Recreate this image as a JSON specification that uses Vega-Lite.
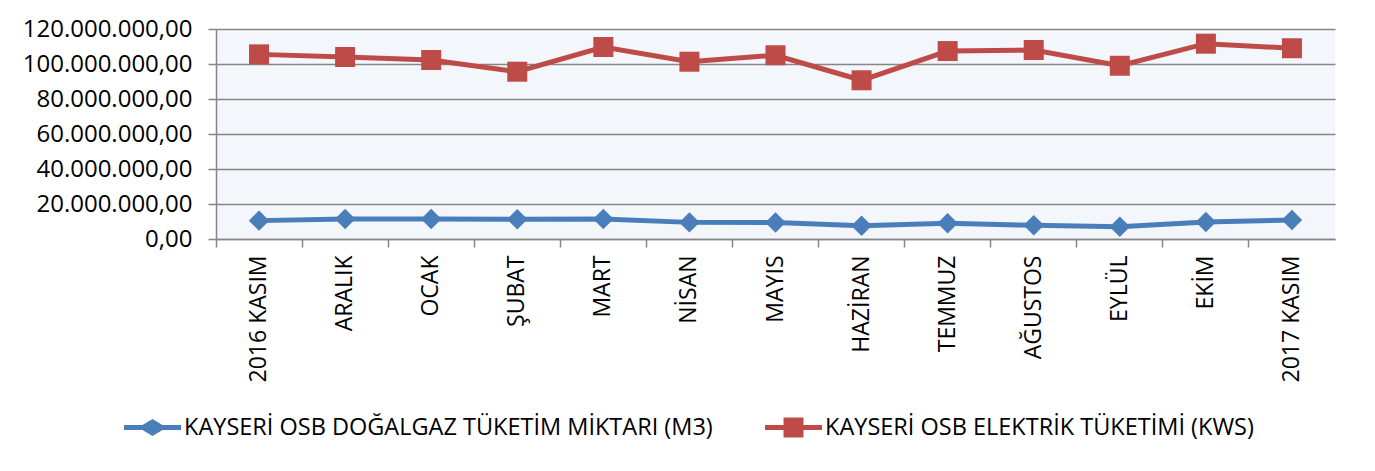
{
  "$schema": "https://vega.github.io/schema/vega-lite/v6.json",
  "width": 1119,
  "height": 210,
  "autosize": {"type": "none"},
  "padding": {"left": 216, "top": 29, "right": 40, "bottom": 232},
  "background": "white",
  "config": {
    "locale": {"number": {"decimal": ",", "thousands": ".", "grouping": [3], "currency": ["", ""]}},
    "font": "Open Sans",
    "view": {"fill": "#f3f6fb", "stroke": null},
    "axis": {"labelFont": "Open Sans", "labelColor": "#000000", "domainColor": "#868686", "tickColor": "#868686", "domainWidth": 1.5, "tickWidth": 1.5, "gridColor": "#868686", "gridWidth": 1.5, "gridOpacity": 1},
    "legend": {"labelFont": "Open Sans", "labelFontSize": 23.5, "labelColor": "#000000", "padding": 0, "labelLimit": 0}
  },
  "data": {"values": [
    {"month": "2016 KASIM", "series": "KAYSERİ OSB DOĞALGAZ TÜKETİM MİKTARI (M3)", "value": 10500000},
    {"month": "ARALIK", "series": "KAYSERİ OSB DOĞALGAZ TÜKETİM MİKTARI (M3)", "value": 11400000},
    {"month": "OCAK", "series": "KAYSERİ OSB DOĞALGAZ TÜKETİM MİKTARI (M3)", "value": 11400000},
    {"month": "ŞUBAT", "series": "KAYSERİ OSB DOĞALGAZ TÜKETİM MİKTARI (M3)", "value": 11300000},
    {"month": "MART", "series": "KAYSERİ OSB DOĞALGAZ TÜKETİM MİKTARI (M3)", "value": 11400000},
    {"month": "NİSAN", "series": "KAYSERİ OSB DOĞALGAZ TÜKETİM MİKTARI (M3)", "value": 9500000},
    {"month": "MAYIS", "series": "KAYSERİ OSB DOĞALGAZ TÜKETİM MİKTARI (M3)", "value": 9400000},
    {"month": "HAZİRAN", "series": "KAYSERİ OSB DOĞALGAZ TÜKETİM MİKTARI (M3)", "value": 7600000},
    {"month": "TEMMUZ", "series": "KAYSERİ OSB DOĞALGAZ TÜKETİM MİKTARI (M3)", "value": 9000000},
    {"month": "AĞUSTOS", "series": "KAYSERİ OSB DOĞALGAZ TÜKETİM MİKTARI (M3)", "value": 7800000},
    {"month": "EYLÜL", "series": "KAYSERİ OSB DOĞALGAZ TÜKETİM MİKTARI (M3)", "value": 7000000},
    {"month": "EKİM", "series": "KAYSERİ OSB DOĞALGAZ TÜKETİM MİKTARI (M3)", "value": 9700000},
    {"month": "2017 KASIM", "series": "KAYSERİ OSB DOĞALGAZ TÜKETİM MİKTARI (M3)", "value": 10900000},
    {"month": "2016 KASIM", "series": "KAYSERİ OSB ELEKTRİK TÜKETİMİ (KWS)", "value": 105500000},
    {"month": "ARALIK", "series": "KAYSERİ OSB ELEKTRİK TÜKETİMİ (KWS)", "value": 104000000},
    {"month": "OCAK", "series": "KAYSERİ OSB ELEKTRİK TÜKETİMİ (KWS)", "value": 102300000},
    {"month": "ŞUBAT", "series": "KAYSERİ OSB ELEKTRİK TÜKETİMİ (KWS)", "value": 95600000},
    {"month": "MART", "series": "KAYSERİ OSB ELEKTRİK TÜKETİMİ (KWS)", "value": 109700000},
    {"month": "NİSAN", "series": "KAYSERİ OSB ELEKTRİK TÜKETİMİ (KWS)", "value": 101300000},
    {"month": "MAYIS", "series": "KAYSERİ OSB ELEKTRİK TÜKETİMİ (KWS)", "value": 105000000},
    {"month": "HAZİRAN", "series": "KAYSERİ OSB ELEKTRİK TÜKETİMİ (KWS)", "value": 90700000},
    {"month": "TEMMUZ", "series": "KAYSERİ OSB ELEKTRİK TÜKETİMİ (KWS)", "value": 107400000},
    {"month": "AĞUSTOS", "series": "KAYSERİ OSB ELEKTRİK TÜKETİMİ (KWS)", "value": 108000000},
    {"month": "EYLÜL", "series": "KAYSERİ OSB ELEKTRİK TÜKETİMİ (KWS)", "value": 99000000},
    {"month": "EKİM", "series": "KAYSERİ OSB ELEKTRİK TÜKETİMİ (KWS)", "value": 111600000},
    {"month": "2017 KASIM", "series": "KAYSERİ OSB ELEKTRİK TÜKETİMİ (KWS)", "value": 109000000}
  ]},
  "encoding": {
    "x": {
      "field": "month", "type": "nominal",
      "sort": ["2016 KASIM", "ARALIK", "OCAK", "ŞUBAT", "MART", "NİSAN", "MAYIS", "HAZİRAN", "TEMMUZ", "AĞUSTOS", "EYLÜL", "EKİM", "2017 KASIM"],
      "scale": {"type": "band", "paddingInner": 0, "paddingOuter": 0},
      "axis": {"title": null, "labelAngle": -90, "labelFontSize": 23, "labelPadding": 8, "tickSize": 8, "bandPosition": 0, "grid": false, "labelAlign": "right", "labelBaseline": "middle"}
    },
    "y": {
      "field": "value", "type": "quantitative",
      "scale": {"domain": [0, 120000000], "nice": false},
      "axis": {"title": null, "values": [0, 20000000, 40000000, 60000000, 80000000, 100000000, 120000000], "format": ",.2f", "labelFontSize": 24, "tickSize": 8, "labelPadding": 16, "grid": true}
    },
    "color": {
      "field": "series", "type": "nominal", "title": null,
      "scale": {"domain": ["KAYSERİ OSB DOĞALGAZ TÜKETİM MİKTARI (M3)", "KAYSERİ OSB ELEKTRİK TÜKETİMİ (KWS)"], "range": ["#4a7ebb", "#be4b48"]}
    }
  },
  "layer": [
    {"mark": {"type": "line", "strokeWidth": 5}},
    {
      "transform": [{"filter": "datum.series === 'KAYSERİ OSB DOĞALGAZ TÜKETİM MİKTARI (M3)'"}],
      "mark": {"type": "point", "shape": "diamond", "filled": true, "size": 420, "opacity": 1}
    },
    {
      "transform": [{"filter": "datum.series === 'KAYSERİ OSB ELEKTRİK TÜKETİMİ (KWS)'"}],
      "mark": {"type": "point", "shape": "square", "filled": true, "size": 400, "opacity": 1}
    },
    {
      "mark": {"type": "point", "filled": true, "opacity": 0, "size": 3249},
      "encoding": {
        "shape": {
          "field": "series", "type": "nominal", "title": null,
          "scale": {
            "domain": ["KAYSERİ OSB DOĞALGAZ TÜKETİM MİKTARI (M3)", "KAYSERİ OSB ELEKTRİK TÜKETİMİ (KWS)"],
            "range": [
              "M-1,-0.09 L-0.35,-0.09 L0,-0.3 L0.35,-0.09 L1,-0.09 L1,0.09 L0.35,0.09 L0,0.3 L-0.35,0.09 L-1,0.09 Z",
              "M-1,-0.09 L-0.35,-0.09 L-0.35,-0.35 L0.35,-0.35 L0.35,-0.09 L1,-0.09 L1,0.09 L0.35,0.09 L0.35,0.35 L-0.35,0.35 L-0.35,0.09 L-1,0.09 Z"
            ]
          },
          "legend": {"orient": "none", "direction": "horizontal", "legendX": -92, "legendY": 370, "symbolSize": 3249, "labelOffset": 3, "columnPadding": 52, "symbolStrokeWidth": 0, "labelLimit": 0}
        },
        "color": {
          "field": "series", "type": "nominal", "title": null,
          "legend": {"orient": "none", "direction": "horizontal", "legendX": -92, "legendY": 370, "symbolSize": 3249, "labelOffset": 3, "columnPadding": 52, "symbolStrokeWidth": 0, "labelLimit": 0}
        }
      }
    }
  ]
}
